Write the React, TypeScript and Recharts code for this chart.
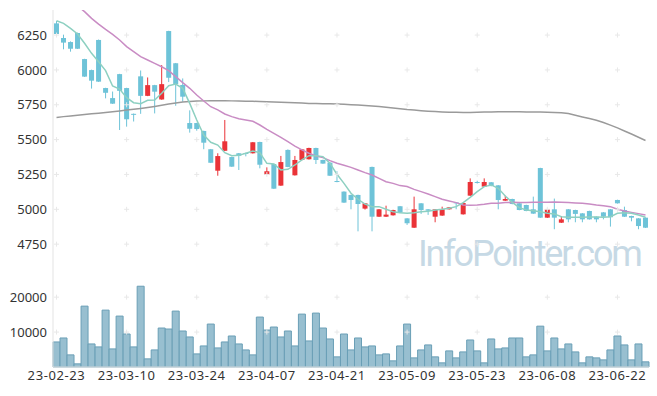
import React from "react";
import {
  ComposedChart,
  Bar,
  Line,
  XAxis,
  YAxis,
  ReferenceDot,
} from "recharts";

const dates = [
  "23-02-23", "23-02-24", "23-02-27", "23-02-28", "23-03-02", "23-03-03", "23-03-06", "23-03-07", "23-03-08", "23-03-09",
  "23-03-10", "23-03-13", "23-03-14", "23-03-15", "23-03-16", "23-03-17", "23-03-20", "23-03-21", "23-03-22", "23-03-23",
  "23-03-24", "23-03-27", "23-03-28", "23-03-29", "23-03-30", "23-03-31", "23-04-03", "23-04-04", "23-04-05", "23-04-06",
  "23-04-07", "23-04-10", "23-04-11", "23-04-12", "23-04-13", "23-04-14", "23-04-17", "23-04-18", "23-04-19", "23-04-20",
  "23-04-21", "23-04-24", "23-04-25", "23-04-26", "23-04-27", "23-04-28", "23-05-02", "23-05-03", "23-05-04", "23-05-08",
  "23-05-09", "23-05-10", "23-05-11", "23-05-12", "23-05-15", "23-05-16", "23-05-17", "23-05-18", "23-05-19", "23-05-22",
  "23-05-23", "23-05-24", "23-05-25", "23-05-26", "23-05-30", "23-05-31", "23-06-01", "23-06-02", "23-06-05", "23-06-07",
  "23-06-08", "23-06-09", "23-06-12", "23-06-13", "23-06-14", "23-06-15", "23-06-16", "23-06-19", "23-06-20", "23-06-21",
  "23-06-22", "23-06-23", "23-06-26", "23-06-27", "23-06-28",
];

const opens = [
  6334, 6229, 6200, 6265, 6078, 5999, 6215, 5870, 5798, 5970,
  5870, 5685, 5954, 5814, 5891, 5788, 6279, 6048, 5892, 5619,
  5619, 5562, 5431, 5277, 5420, 5375, 5402, 5404, 5402, 5483,
  5249, 5325, 5170, 5426, 5244, 5354, 5359, 5440, 5354, 5335,
  5203, 5127, 5103, 5103, 5005, 5304, 4947, 4947, 4957, 5022,
  4935, 4868, 5043, 5000, 4947, 4955, 5000, 5050, 4964, 5098,
  5196, 5163, 5194, 5172, 5062, 5074, 5043, 5031, 5000, 5296,
  4940, 5000, 4904, 5000, 4995, 4971, 4988, 4947, 4978, 5000,
  5067, 4995, 4952, 4935, 4940,
];
const closes = [
  6258, 6196, 6152, 6152, 5952, 5923, 5916, 5836, 5758, 5850,
  5646, 5680, 5814, 5891, 5844, 5898, 5944, 5899, 5808, 5578,
  5576, 5478, 5334, 5382, 5488, 5306, 5384, 5400, 5481, 5320,
  5273, 5148, 5339, 5304, 5354, 5430, 5440, 5354, 5328, 5241,
  5200, 5048, 5067, 5038, 5043, 4947, 5000, 4962, 4995, 4976,
  4900, 5000, 4995, 4990, 5000, 5000, 5014, 5043, 5045, 5196,
  5193, 5196, 5167, 5067, 5074, 5038, 4995, 4988, 4969, 4940,
  5000, 4940, 4928, 4928, 4967, 4928, 4928, 4928, 4947, 4943,
  5043, 4947, 4940, 4880, 4868,
];
const highs = [
  6351, 6253, 6205, 6268, 6080, 6002, 6218, 5872, 5845, 5972,
  5872, 5687, 5996, 5946, 5893, 6035, 6281, 6050, 5939, 5710,
  5621, 5564, 5433, 5402, 5641, 5377, 5404, 5406, 5483, 5485,
  5301, 5327, 5383, 5430, 5383, 5432, 5442, 5442, 5356, 5337,
  5273, 5129, 5105, 5105, 5045, 5306, 5002, 5026, 4997, 5024,
  4937, 5091, 5045, 5002, 5002, 5019, 5016, 5052, 5047, 5222,
  5205, 5222, 5196, 5174, 5098, 5076, 5045, 5033, 5091, 5298,
  5002, 5077, 4952, 5002, 4997, 4973, 4990, 4949, 4980, 5002,
  5069, 5019, 4954, 4937, 4942,
];
const lows = [
  6250, 6148, 6131, 6150, 5950, 5866, 5914, 5796, 5756, 5569,
  5593, 5630, 5685, 5812, 5688, 5786, 5913, 5743, 5772, 5550,
  5564, 5431, 5332, 5241, 5418, 5304, 5282, 5380, 5400, 5294,
  5247, 5146, 5168, 5302, 5242, 5352, 5357, 5325, 5326, 5239,
  5194, 5046, 5000, 4842, 4998, 4842, 4945, 4945, 4955, 4974,
  4888, 4866, 4967, 4960, 4907, 4953, 4998, 5000, 4962, 5096,
  5185, 5161, 5165, 5000, 5060, 5036, 4993, 4986, 4967, 4938,
  4938, 4857, 4902, 4907, 4907, 4907, 4926, 4907, 4928, 4876,
  5041, 4945, 4914, 4857, 4866,
];

// moving averages as drawn on the chart
const maShort = [
  6353, 6334, 6298, 6258, 6191, 6119, 6059, 5995, 5885, 5863,
  5801, 5765, 5758, 5782, 5784, 5832, 5887, 5899, 5868, 5760,
  5641, 5533, 5481, 5461, 5406, 5385, 5387, 5402, 5418, 5406,
  5330, 5325, 5282, 5287, 5318, 5354, 5385, 5385, 5378, 5330,
  5251, 5186, 5115, 5072, 5038, 5019, 5019, 5000, 4983, 4976,
  4971, 4976, 4983, 4986, 4995, 5000, 5007, 5019, 5048, 5086,
  5127, 5163, 5175, 5151, 5096, 5050, 5012, 4995, 4990, 4983,
  4971, 4967, 4947, 4943, 4943, 4943, 4945, 4945, 4943, 4947,
  4971, 4976, 4971, 4959, 4943,
];
const maMid = [
  6595, 6550, 6505, 6460, 6418, 6370, 6329, 6291, 6255, 6215,
  6167, 6131, 6095, 6071, 6047, 6023, 5995, 5952, 5909, 5868,
  5820, 5777, 5736, 5713, 5684, 5665, 5650, 5641, 5632, 5605,
  5574, 5545, 5516, 5485, 5454, 5426, 5402, 5383, 5371, 5349,
  5330, 5316, 5301, 5282, 5263, 5246, 5222, 5198, 5186, 5170,
  5163, 5143, 5127, 5110, 5091, 5072, 5060, 5048, 5031, 5029,
  5031, 5036, 5043, 5043, 5048, 5050, 5048, 5048, 5050, 5050,
  5050, 5053, 5050, 5048, 5045, 5043, 5038, 5031, 5026, 5019,
  5000, 4988, 4978, 4969, 4959,
];
const maLong = [
  5659, 5665, 5670, 5675, 5680, 5685, 5689, 5694, 5700, 5706,
  5712, 5718, 5724, 5731, 5738, 5746, 5755, 5763, 5770, 5774,
  5777, 5778, 5779, 5779, 5779, 5778, 5777, 5776, 5775, 5773,
  5772, 5770, 5768, 5766, 5764, 5762, 5760, 5759, 5758, 5757,
  5755, 5753, 5751, 5748, 5745, 5741, 5737, 5732, 5727, 5722,
  5716, 5712, 5708, 5704, 5701, 5699, 5697, 5696, 5695, 5695,
  5696, 5698, 5699, 5700, 5700, 5700, 5700, 5699, 5699, 5698,
  5697, 5695, 5692, 5687, 5675, 5663, 5651, 5639, 5623, 5604,
  5584, 5562, 5540, 5517, 5494,
];

const volumes = [
  7170, 8310, 3470, 900, 17430, 6600, 5750, 16290, 5180, 14580,
  9450, 5750, 23130, 2330, 4890, 11160, 10880, 16010, 10310, 8600,
  3750, 6030, 12300, 5460, 7170, 8880, 6600, 4890, 3470, 14300,
  10590, 11450, 8600, 10310, 6030, 15150, 7460, 15440, 11160, 8030,
  2900, 9450, 4890, 8310, 5750, 6030, 3470, 3750, 1760, 6030,
  12300, 2610, 4890, 6320, 2900, 1190, 4610, 2610, 4320, 7740,
  4610, 1190, 8030, 5180, 5460, 8310, 8310, 2900, 3470, 11700,
  4610, 8310, 5180, 6600, 4320, 1190, 2900, 2610, 2040, 4890,
  8880, 6320, 2040, 6600, 1480,
];

const tickDates = ["23-02-23", "23-03-10", "23-03-24", "23-04-07", "23-04-21", "23-05-09", "23-05-23", "23-06-08", "23-06-22"];
const priceTicks = [4750, 5000, 5250, 5500, 5750, 6000, 6250];
const volumeTicks = [10000, 20000];

const UP = "#ea3338";
const DOWN = "#6ec3d8";
const FRAME = "#e3e3e3";
const tickStyle = { fill: "#333", fontSize: 13, fontFamily: "'Noto Sans', sans-serif" };

const Candle = (props: any) => {
  const { x, y, width, height, payload } = props;
  const { open, close, high, low } = payload;
  const top = Math.min(y, y + height);
  const h = Math.abs(height);
  const k = h / (high - low);
  const py = (v: number) => top + (high - v) * k;
  const color = close >= open ? UP : DOWN;
  const cx = x + width / 2;
  const bTop = py(Math.max(open, close));
  const bH = Math.max(1, Math.abs(py(open) - py(close)));
  return (
    <g>
      <line x1={cx} x2={cx} y1={top} y2={top + h} stroke={color} strokeWidth={1} />
      <rect x={x} y={bTop} width={width} height={bH} fill={color} />
    </g>
  );
};

const Cross = (props: any) => {
  const { cx, cy } = props;
  return <path d={`M${cx - 2.5},${cy}h5M${cx},${cy - 2.5}v5`} stroke="#e8e8e8" strokeWidth={1} fill="none" />;
};

export default function App() {
  const rows = dates.map((date, i) => ({
    date,
    open: opens[i],
    close: closes[i],
    high: highs[i],
    low: lows[i],
    range: [lows[i], highs[i]],
    maShort: maShort[i],
    maMid: maMid[i],
    maLong: maLong[i],
    volume: volumes[i],
  }));

  return (
    <div style={{ position: "absolute", left: 0, top: 0, width: 657, height: 396, background: "#fff" }}>
      <div
        style={{
          position: "absolute",
          left: 418,
          top: 236,
          fontFamily: "Roboto, sans-serif",
          fontSize: 36,
          lineHeight: "36px",
          letterSpacing: -2.2,
          color: "#c6d9e5",
          whiteSpace: "nowrap",
        }}
      >
        InfoPointer.com
      </div>

      <div style={{ position: "absolute", left: 0, top: 0 }}>
        <ComposedChart width={657} height={280} data={rows} margin={{ top: 10, right: 8, bottom: 1, left: 0 }}>
          <XAxis dataKey="date" hide />
          <XAxis xAxisId="top" dataKey="date" orientation="top" height={0} tick={false} tickLine={false} axisLine={{ stroke: FRAME }} />
          <YAxis
            domain={[4500, 6430]}
            ticks={priceTicks}
            allowDataOverflow
            width={53}
            axisLine={{ stroke: FRAME }}
            tickLine={false}
            tickSize={0}
            tickMargin={6}
            tick={tickStyle}
          />
          <YAxis yAxisId="r" orientation="right" width={0} domain={[0, 1]} tick={false} tickLine={false} axisLine={{ stroke: FRAME }} />
          {tickDates.map((d) =>
            priceTicks.map((v) => <ReferenceDot key={d + v} x={d} y={v} shape={Cross} />)
          )}
          <Bar dataKey="range" barSize={5} shape={Candle} isAnimationActive={false} />
          <Line dataKey="maLong" stroke="#9a9a9a" strokeWidth={1.5} dot={false} isAnimationActive={false} />
          <Line dataKey="maMid" stroke="#c98cc4" strokeWidth={1.5} dot={false} isAnimationActive={false} />
          <Line dataKey="maShort" stroke="#8dd0c1" strokeWidth={1.5} dot={false} isAnimationActive={false} />
        </ComposedChart>
      </div>

      <div style={{ position: "absolute", left: 0, top: 279 }}>
        <ComposedChart width={657} height={117} data={rows} margin={{ top: 0, right: 8, bottom: 0, left: 0 }} barCategoryGap={0}>
          <XAxis
            dataKey="date"
            ticks={tickDates}
            interval={0}
            height={29}
            axisLine={{ stroke: FRAME }}
            tickLine={false}
            tickSize={0}
            tickMargin={4}
            tick={{ ...tickStyle, letterSpacing: 0.6 }}
          />
          <XAxis xAxisId="top" dataKey="date" orientation="top" height={0} tick={false} tickLine={false} axisLine={{ stroke: FRAME }} />
          <YAxis
            domain={[0, 25200]}
            ticks={volumeTicks}
            width={53}
            axisLine={{ stroke: FRAME }}
            tickLine={false}
            tickSize={0}
            tickMargin={6}
            tick={tickStyle}
          />
          <YAxis yAxisId="r" orientation="right" width={0} domain={[0, 1]} tick={false} tickLine={false} axisLine={{ stroke: FRAME }} />
          <Bar dataKey="volume" fill="#98bfd0" stroke="#6a9fb6" strokeWidth={1} isAnimationActive={false} />
          {tickDates.map((d) =>
            volumeTicks.map((v) => <ReferenceDot key={d + v} x={d} y={v} shape={Cross} />)
          )}
        </ComposedChart>
      </div>
    </div>
  );
}
